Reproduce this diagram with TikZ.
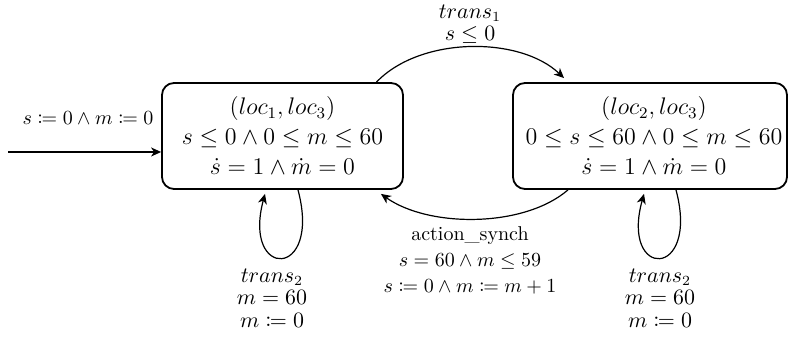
\documentclass[tikz,border=0pt]{standalone}
\usepackage{amsmath,amssymb}
\usepackage{mathtools}
\usetikzlibrary{arrows.meta}
\begin{document}
\begin{tikzpicture}[x=1pt,y=1pt,
  statebox/.style={draw,line width=0.9pt,rounded corners=6pt,minimum height=53pt,inner sep=0pt},
  statetext/.style={align=center,font=\large,inner sep=0pt},
  arr/.style={line width=0.6pt,-{Stealth[length=5pt,width=4.5pt,inset=1.5pt]}},
  lab/.style={align=center,inner sep=0pt},
  looplab/.style={align=center,inner sep=0pt,font=\fontsize{10.5}{11.2}\selectfont}]
\useasboundingbox (0,0) rectangle (399.5,170);
\node[statebox,minimum width=120.5pt] (A) at (141.25,102) {};
\node[statetext] (At) at (A.center) {$(loc_1,loc_3)$\\[1pt] $s\leq 0\wedge 0\leq m\leq 60$\\[1pt] $\dot{s}=1\wedge\dot{m}=0$};
\node[statebox,minimum width=137pt] (B) at (325,102) {};
\node[statetext] (Bt) at ([xshift=2pt]B.center) {$(loc_2,loc_3)$\\[1pt] $0\leq s\leq 60\wedge 0\leq m\leq 60$\\[1pt] $\dot{s}=1\wedge\dot{m}=0$};
% initial
\coordinate (init) at (4,94);
\draw[arr] (init) -- (init -| A.west);
\node[lab] (initlab) at (44,111) {$s\coloneqq 0\wedge m\coloneqq 0$};
% top arc
\coordinate (t1) at ([xshift=47pt]A.north);
\coordinate (t2) at ([xshift=-43pt,yshift=2pt]B.north);
\draw[arr] (t1) .. controls ([xshift=22pt,yshift=23pt]t1) and ([xshift=-22pt,yshift=21pt]t2) .. (t2);
\node[looplab] (toplab) at (235,158) {$trans_1$\\ $s\leq 0$};
% bottom arc
\coordinate (b1) at ([xshift=-41pt]B.south);
\coordinate (b2) at ([xshift=-11.5pt,yshift=-2pt]A.south east);
\draw[arr] (b1) .. controls ([xshift=-22pt,yshift=-19pt]b1) and ([xshift=24pt,yshift=-17pt]b2) .. (b2);
\node[lab] (botlab) at (235,40) {action\_synch\\[1pt] $s=60\wedge m\leq 59$\\[1pt] $s\coloneqq 0\wedge m\coloneqq m+1$};
% loop A
\coordinate (ca) at ([xshift=-0.25pt]A.south);
\coordinate (la1) at ([xshift=8pt]ca);
\coordinate (la2) at ([xshift=-8.5pt,yshift=-2pt]ca);
\draw[arr] (la1) .. controls ([xshift=20pt,yshift=-45pt]ca) and ([xshift=-20pt,yshift=-45pt]ca) .. (la2);
\node[looplab] (lalab) at (136,21) {$trans_2$\\ $m=60$\\ $m\coloneqq 0$};
% loop B
\coordinate (cb) at ([xshift=5pt]B.south);
\coordinate (lb1) at ([xshift=8pt]cb);
\coordinate (lb2) at ([xshift=-8pt,yshift=-2pt]cb);
\draw[arr] (lb1) .. controls ([xshift=20pt,yshift=-45pt]cb) and ([xshift=-20pt,yshift=-45pt]cb) .. (lb2);
\node[looplab] (lblab) at (330,21) {$trans_2$\\ $m=60$\\ $m\coloneqq 0$};
\end{tikzpicture}
\end{document}
